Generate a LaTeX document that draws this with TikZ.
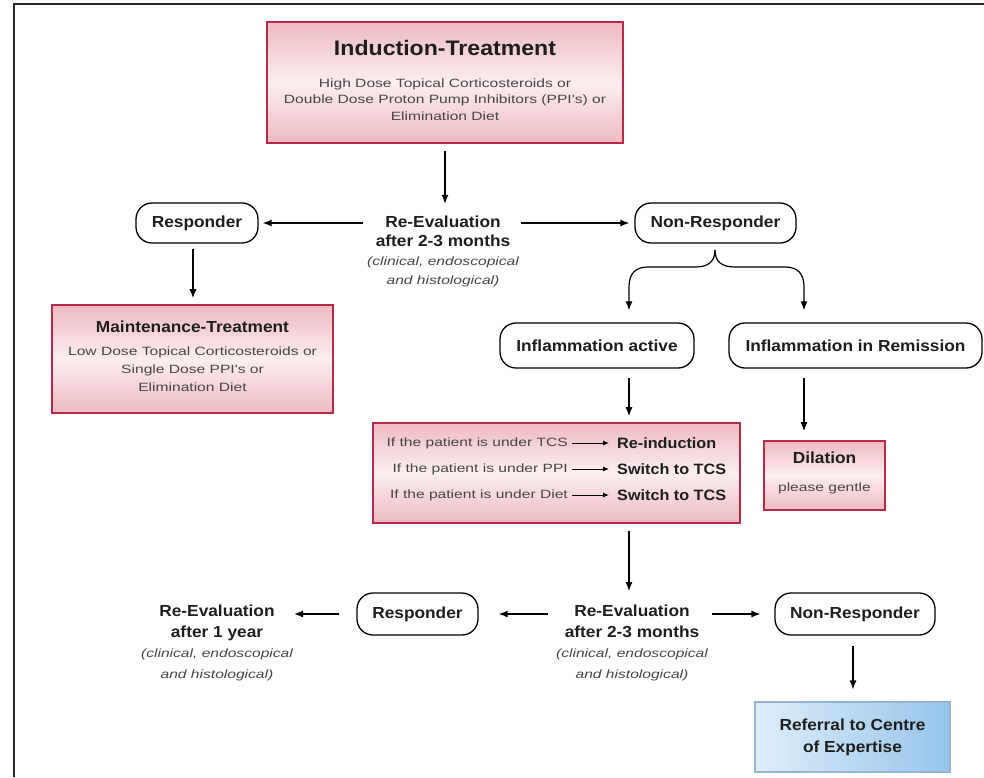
\documentclass[tikz,border=0pt]{standalone}
\usepackage{fontspec}
\setmainfont{Liberation Sans}
\newfontfamily\labfam[FakeStretch=1.08]{Liberation Sans}
\newfontfamily\titfam[FakeStretch=1.1]{Liberation Sans}
\newfontfamily\subfam[FakeStretch=1.3]{Liberation Sans}
\usetikzlibrary{arrows.meta}
\definecolor{boxred}{RGB}{186,42,72}
\definecolor{pinkedge}{RGB}{238,186,194}
\definecolor{pinkmid}{RGB}{252,238,240}
\definecolor{txtdark}{RGB}{30,30,30}
\definecolor{txtgrey}{RGB}{70,70,70}
\definecolor{blueA}{RGB}{222,238,250}
\definecolor{blueB}{RGB}{150,196,234}
\definecolor{blueedge}{RGB}{150,180,210}
\newcommand\mytit[1]{{\titfam\bfseries\fontsize{21}{24}\selectfont\color{txtdark}#1}}
\newcommand\mylab[1]{{\labfam\bfseries\fontsize{16}{21}\selectfont\color{txtdark}#1}}
\newcommand\mylabs[1]{{\labfam\bfseries\fontsize{15}{21}\selectfont\color{txtdark}#1}}
\newcommand\mysub[1]{{\subfam\fontsize{12}{16.5}\selectfont\color{txtgrey}#1}}
\newcommand\myita[1]{{\subfam\itshape\fontsize{12}{21}\selectfont\color{txtgrey}#1}}
\begin{document}
\begin{tikzpicture}[x=1pt,y=-1pt,
  txt/.style={inner sep=0pt, align=center},
  pinkbox/.style={draw=boxred, line width=1.6pt, top color=pinkedge, bottom color=pinkedge, middle color=pinkmid, inner sep=0pt},
  bluebox/.style={draw=blueedge, line width=1.2pt, left color=blueA, right color=blueB, inner sep=0pt},
  rbox/.style={draw=black, line width=1.3pt, rounded corners=16pt, fill=white, inner sep=0pt},
  arr/.style={-{Latex[length=9pt,width=7pt]}, line width=1.2pt, black},
  sarr/.style={-{Latex[length=6pt,width=5pt]}, line width=1pt, black}]
\useasboundingbox (0,0) rectangle (984,777);
% frame
\draw[line width=2pt, black!85] (14,777) -- (14,4) -- (984,4);

% induction box
\node[pinkbox, minimum width=356pt, minimum height=121pt] (ind) at (445,82.5) {};
\node[txt] (indt) at (445,48) {\mytit{Induction-Treatment}};
\node[txt, font=\fontsize{12}{16.5}\selectfont] (inds) at (445,99.5) {\mysub{High Dose Topical Corticosteroids or}\\\mysub{Double Dose Proton Pump Inhibitors (PPI's) or}\\\mysub{Elimination Diet}};

% first re-evaluation
\node[txt, font=\fontsize{12}{19}\selectfont] (re1) at (443,251.5) {\mylab{Re-Evaluation}\\\mylab{after 2-3 months}\\\myita{(clinical, endoscopical}\\\myita{and histological)}};
\node[rbox, minimum width=122pt, minimum height=40pt] (resp1) at (197,223) {\mylab{Responder}};
\node[rbox, minimum width=161pt, minimum height=40pt] (nr1) at (715.5,223) {\mylab{Non-Responder}};

% maintenance
\node[pinkbox, minimum width=281pt, minimum height=108pt] (maint) at (192.5,359) {};
\node[txt] (maintt) at (192.5,327) {\mylab{Maintenance-Treatment}};
\node[txt, font=\fontsize{12}{18}\selectfont] (maints) at (192.5,369) {\mysub{Low Dose Topical Corticosteroids or}\\\mysub{Single Dose PPI's or}\\\mysub{Elimination Diet}};

% inflammation boxes
\node[rbox, minimum width=194pt, minimum height=45pt] (ia) at (597,345.5) {\mylab{Inflammation active}};
\node[rbox, minimum width=253pt, minimum height=45pt] (irem) at (855.5,345.5) {\mylab{Inflammation in Remission}};

% middle box
\node[pinkbox, minimum width=367pt, minimum height=100pt] (mid) at (556.5,473) {};
\node[txt, anchor=east] (l1) at (568,443) {\mysub{If the patient is under TCS}};
\node[txt, anchor=east] (l2) at (568,469) {\mysub{If the patient is under PPI}};
\node[txt, anchor=east] (l3) at (568,495) {\mysub{If the patient is under Diet}};
\node[txt, anchor=west] (r1) at (617,443) {\mylabs{Re-induction}};
\node[txt, anchor=west] (r2) at (617,469) {\mylabs{Switch to TCS}};
\node[txt, anchor=west] (r3) at (617,495) {\mylabs{Switch to TCS}};
\draw[sarr, shorten <=4pt, shorten >=8pt] (l1.east) -- (l1.east -| r1.west);
\draw[sarr, shorten <=4pt, shorten >=8pt] (l2.east) -- (l2.east -| r2.west);
\draw[sarr, shorten <=4pt, shorten >=8pt] (l3.east) -- (l3.east -| r3.west);

% dilation
\node[pinkbox, minimum width=121pt, minimum height=69pt] (dil) at (824.5,475.5) {};
\node[txt] (dilt) at (824.5,458) {\mylab{Dilation}};
\node[txt] (dils) at (824.5,488) {\mysub{please gentle}};

% second re-evaluation
\node[txt, font=\fontsize{12}{20.5}\selectfont] (re2) at (632,643) {\mylab{Re-Evaluation}\\\mylab{after 2-3 months}\\\myita{(clinical, endoscopical}\\\myita{and histological)}};
\node[rbox, minimum width=121pt, minimum height=42pt] (resp2) at (417.5,614) {\mylab{Responder}};
\node[rbox, minimum width=160pt, minimum height=42pt] (nr2) at (855,614) {\mylab{Non-Responder}};
\node[txt, font=\fontsize{12}{20.5}\selectfont] (re3) at (217,643) {\mylab{Re-Evaluation}\\\mylab{after 1 year}\\\myita{(clinical, endoscopical}\\\myita{and histological)}};

% referral
\node[bluebox, minimum width=195pt, minimum height=70pt] (ref) at (852.5,737) {};
\node[txt, font=\fontsize{16}{22}\selectfont] (reft) at (852.5,737) {\mylab{Referral to Centre}\\\mylab{of Expertise}};

% connectors
\draw[arr, shorten <=7pt, shorten >=12pt] (ind.south) -- (ind.south |- re1.north);
\draw[arr, shorten <=4pt, shorten >=4pt] (re1.west |- resp1) -- (resp1.east);
\draw[arr, shorten <=2pt, shorten >=5pt] (re1.east |- nr1) -- (nr1.west);
\draw[arr, shorten <=5pt, shorten >=6pt] ([xshift=-4pt]resp1.south) -- ([xshift=-4pt]resp1.south |- maint.north);

\coordinate (bt) at (715,250);
\coordinate (bl) at (629,287);
\coordinate (br) at (804,287);
\draw[arr, shorten >=12pt] (bt) .. controls (715,262) and (708,267) .. (695,267) -- (648,267) .. controls (635,267) and (629,274) .. (bl) -- (bl |- ia.north);
\draw[arr, shorten >=12pt] (bt) .. controls (715,262) and (722,267) .. (735,267) -- (785,267) .. controls (798,267) and (804,274) .. (br) -- (br |- irem.north);

\draw[arr, shorten <=9pt, shorten >=6pt] (bl |- ia.south) -- (bl |- mid.north);
\draw[arr, shorten <=9pt, shorten >=9pt] (br |- irem.south) -- (br |- dil.north);
\draw[arr, shorten <=7pt, shorten >=14pt] (bl |- mid.south) -- (bl |- re2.north);
\draw[arr, shorten <=8pt, shorten >=20pt] (re2.west |- resp2) -- (resp2.east);
\draw[arr, shorten <=4pt, shorten >=14pt] (re2.east |- nr2) -- (nr2.west);
\draw[arr, shorten <=17pt, shorten >=1pt] (resp2.west) -- (re3.east |- resp2);
\draw[arr, shorten <=10pt, shorten >=12pt] ([xshift=-2pt]nr2.south) -- ([xshift=-2pt]nr2.south |- ref.north);
\end{tikzpicture}
\end{document}
